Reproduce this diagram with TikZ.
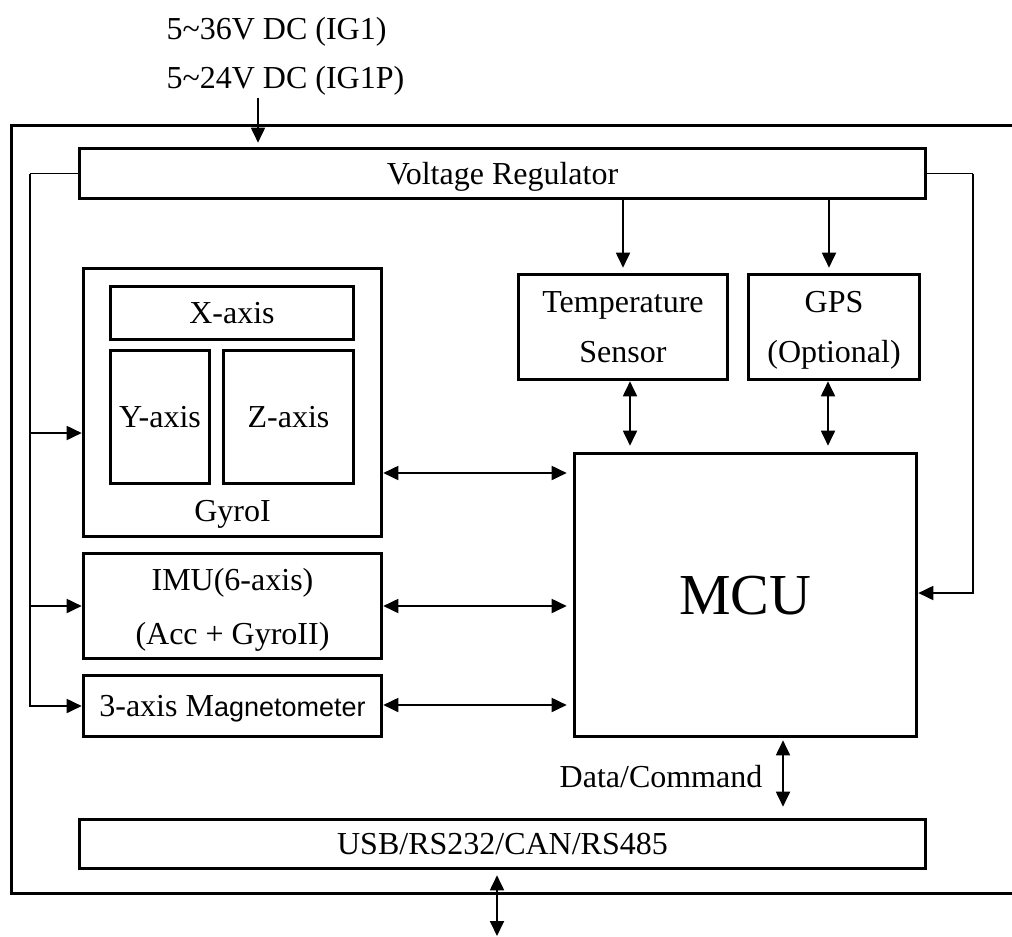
\documentclass[tikz,border=0pt]{standalone}
\usepackage{fontspec}
\setmainfont{Liberation Serif}
\setsansfont{Liberation Sans}
\usetikzlibrary{positioning,arrows.meta}

\begin{document}
\begin{tikzpicture}[x=1pt, y=-1pt,
		every node/.style={font=\fontsize{32}{50}\selectfont},
		blk/.style={draw, rectangle, line width=3.6pt, inner sep=0pt, align=center, text depth=0pt},
		wire/.style={line width=1.5pt},
		link/.style={line width=1.8pt, -{Triangle[length=15pt,width=14pt]}},
		both/.style={line width=1.8pt, {Triangle[length=15pt,width=14pt]}-{Triangle[length=15pt,width=14pt]}}]
		
		\useasboundingbox (0,0) rectangle (1012,937);
		
		% Frame
		\draw[line width=3.6pt] (1020,125.5) -- (11.5,125.5) -- (11.5,893.5) -- (1020,893.5);
		
		% Power input
		\node (vin1) [anchor=west] at (163,32) {5\textasciitilde36V DC (IG1)};
		\node (vin2) [anchor=west] at (163,81) {5\textasciitilde24V DC (IG1P)};
		\coordinate (vin) at (258,98);
		
		% Regulator
		\node (vreg) [blk, minimum width=846pt, minimum height=50pt] at (502.5,173.5) {Voltage Regulator};
		
		% Sensors
		\node (gyro) [blk, minimum width=298pt, minimum height=268pt] at (232.5,402.5) {};
		\node (xaxis) [blk, minimum width=243pt, minimum height=53pt] at (232,313) {X-axis};
		\node (yaxis) [blk, minimum width=99pt, minimum height=133pt] at (160,417) {Y-axis};
		\node (zaxis) [blk, minimum width=130pt, minimum height=133pt] at (288.5,417) {Z-axis};
		\node (gyrolabel) at (232.5,514) {GyroI};
		\node (imu) [blk, minimum width=298pt, minimum height=105pt] at (232.5,606) {IMU(6-axis)\\[4pt](Acc + GyroII)};
		\node (mag) [blk, minimum width=298pt, minimum height=61pt] at (232.5,706) {3-axis M{\sffamily\fontsize{27}{32}\selectfont agnetometer}};
		\node (temp) [blk, minimum width=209pt, minimum height=105pt] at (623,327) {Temperature\\Sensor};
		\node (gps) [blk, minimum width=171pt, minimum height=105pt] at (834,327) {GPS\\(Optional)};
		
		% MCU and bus
		\node (mcu) [blk, minimum width=342pt, minimum height=283pt, font=\fontsize{58}{64}\selectfont] at (745.5,595) {MCU};
		\node (usb) [blk, minimum width=846pt, minimum height=49pt] at (502.5,844) {USB/RS232/CAN/RS485};
		\node (datacmd) at (661,777) {Data/Command};
		\coordinate (ext) at (497,936);
		
		% Supply lines
		\coordinate (lbus) at (30,173.5);
		\coordinate (rbus) at (973,173.5);
		\draw[wire] (vreg.west) -- (lbus);
		\draw[link] (lbus) |- (mag.west);
		\draw[link] (lbus |- imu.west) -- (imu.west);
		\draw[link] ([yshift=-30.5pt]gyro.west -| lbus) -- ([yshift=-30.5pt]gyro.west);
		\draw[wire] (vreg.east) -- (rbus);
		\draw[link] (rbus) |- ([yshift=2pt]mcu.east);
		\draw[link, shorten >=5pt] (vreg.south -| temp) -- (temp);
		\draw[link, shorten >=5pt] ([xshift=-5pt]vreg.south -| gps) -- ([xshift=-5pt]gps.north);
		\draw[link, shorten >=4pt] (vin) -- (vin |- vreg.north);
		
		% Data lines
		\draw[both, shorten >=6pt] ([xshift=7pt]temp.south) -- ([xshift=7pt]temp.south |- mcu.north);
		\draw[both, shorten >=6pt] ([xshift=-6pt]gps.south) -- ([xshift=-6pt]gps.south |- mcu.north);
		\draw[both, shorten >=6pt] ([yshift=-70.5pt]gyro.east) -- ([yshift=-70.5pt]gyro.east -| mcu.west);
		\draw[both, shorten >=6pt] (imu.east) -- (imu.east -| mcu.west);
		\draw[both, shorten >=6pt] ([yshift=1pt]mag.east) -- ([yshift=1pt]mag.east -| mcu.west);
		\draw[both, shorten <=2pt, shorten >=11pt] ([xshift=37.5pt]mcu.south) -- ([xshift=37.5pt]mcu.south |- usb.north);
		\draw[both, shorten <=5pt] (usb.south -| ext) -- (ext);
		
	\end{tikzpicture}
\end{document}
